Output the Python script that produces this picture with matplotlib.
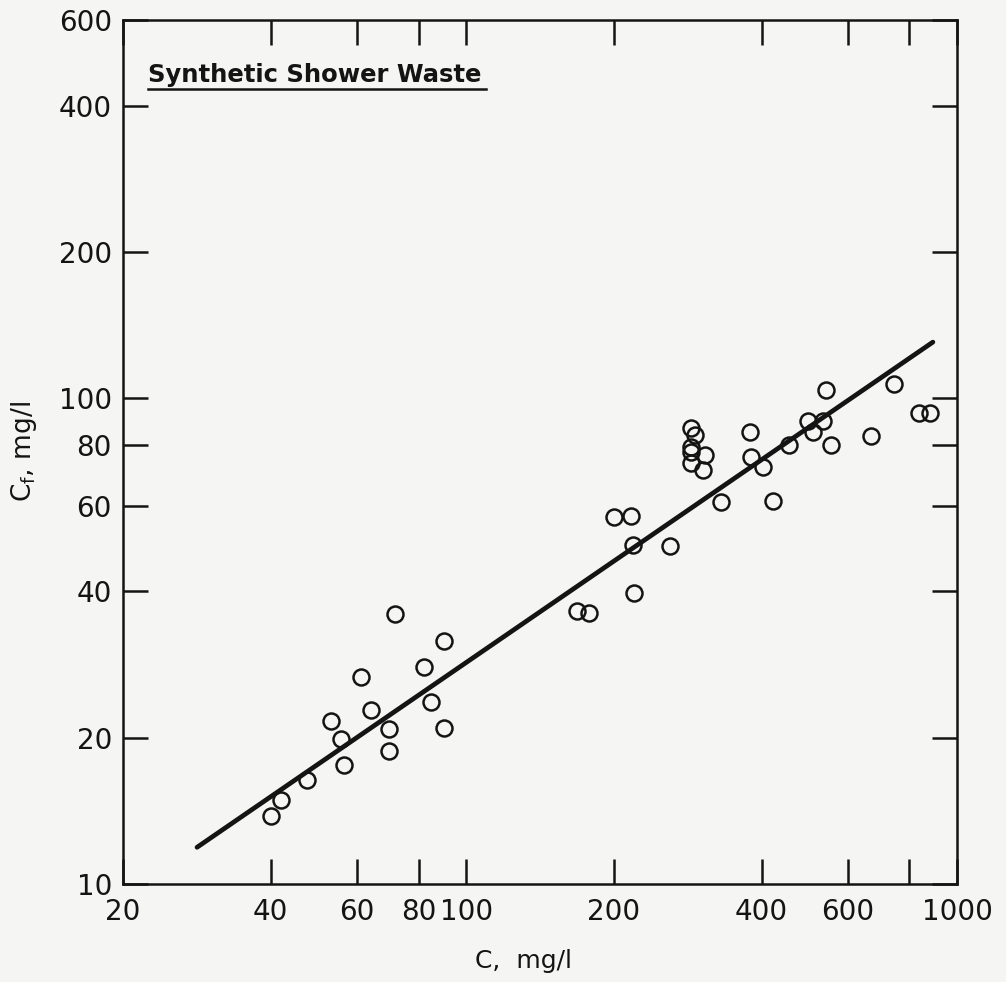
import matplotlib
matplotlib.use('Agg')
import matplotlib.pyplot as plt
from matplotlib.ticker import FixedLocator, FixedFormatter, NullLocator

plt.rcParams['font.family'] = ['DejaVu Sans']
plt.rcParams['axes.unicode_minus'] = False

# data
c_in = [40, 42, 47.3, 53, 55.5, 56.5, 61, 64, 69.5, 69.5, 71.5, 82, 85, 90, 90,
        168, 178, 200, 217, 219, 220, 260,
        287, 292, 287, 287, 287, 307, 304,
        330, 378, 380, 403, 422, 455, 498, 510, 533, 540, 555, 668, 745, 837, 881]
c_f = [13.8, 14.9, 16.4, 21.6, 19.9, 17.6, 26.7, 22.8, 20.8, 18.8, 36, 28, 23.7, 31.6, 20.9,
       36.4, 36.1, 57, 57.3, 49.8, 39.8, 49.7,
       86.6, 84, 79.4, 77.5, 73.4, 76.3, 71,
       61, 85, 75.7, 72, 61.5, 80, 89.7, 85, 89.7, 104, 80, 83.5, 107, 93, 93]

fit_x = [28.3, 893]
fit_y = [11.9, 130.4]

x_ticks = [20, 40, 60, 80, 100, 200, 400, 600, 800, 1000]
x_labels = ['20', '40', '60', '80', '100', '200', '400', '600', '', '1000']
y_ticks = [10, 20, 40, 60, 80, 100, 200, 400, 600]
y_labels = ['10', '20', '40', '60', '80', '100', '200', '400', '600']

ink = '#141414'
paper = '#f5f5f4'

fig = plt.figure(figsize=(10.06, 9.82), dpi=100, facecolor=paper)
ax = fig.add_axes([0.1223, 0.0998, 0.829, 0.8798], facecolor=paper)

ax.plot(fit_x, fit_y, color=ink, lw=3.4, solid_capstyle='round', zorder=2)
ax.plot(c_in, c_f, 'o', ms=11.5, mfc='none', mec=ink, mew=1.8, zorder=3)

ax.set_xscale('log')
ax.set_yscale('log')
ax.set_xlim(20, 1000)
ax.set_ylim(10, 600)

ax.xaxis.set_major_locator(FixedLocator(x_ticks))
ax.xaxis.set_major_formatter(FixedFormatter(x_labels))
ax.xaxis.set_minor_locator(NullLocator())
ax.yaxis.set_major_locator(FixedLocator(y_ticks))
ax.yaxis.set_major_formatter(FixedFormatter(y_labels))
ax.yaxis.set_minor_locator(NullLocator())

ax.tick_params(which='major', direction='in', length=18, width=1.8, color=ink,
               labelsize=20, labelcolor=ink, top=True, right=True, pad=8)
ax.tick_params(axis='x', pad=10)
for s in ax.spines.values():
    s.set_linewidth(1.8)
    s.set_color(ink)

ax.set_xlabel('C,  mg/l', fontsize=18, color=ink, labelpad=14)
ax.xaxis.set_label_coords(0.48, -0.075)
ax.set_ylabel(r'C$_\mathregular{f}$, mg/l', fontsize=19, color=ink, labelpad=14)

title = ax.text(0.030, 0.928, 'Synthetic Shower Waste', transform=ax.transAxes,
                fontsize=17.5, fontweight='bold', color=ink, ha='left', va='baseline')

# underline the title
fig.canvas.draw()
bb = title.get_window_extent(renderer=fig.canvas.get_renderer())
inv = ax.transAxes.inverted()
(x0, y0), (x1, _) = inv.transform([[bb.x0, bb.y0], [bb.x1, bb.y0]])
ax.plot([x0, x1 + 0.005], [y0 - 0.002, y0 - 0.002], transform=ax.transAxes,
        color=ink, lw=1.8, clip_on=False)

fig.savefig('out.png', dpi=100, facecolor=paper)
